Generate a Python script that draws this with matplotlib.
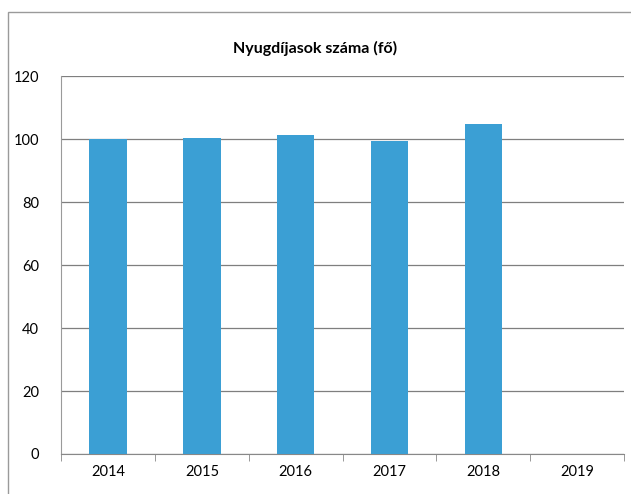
import matplotlib.pyplot as plt
from matplotlib.patches import Rectangle

years = ["2014", "2015", "2016", "2017", "2018", "2019"]
values = [100.0, 100.2, 101.3, 99.5, 104.7, 0]
yticks = [0, 20, 40, 60, 80, 100, 120]

plt.rcParams['font.family'] = ['Lato', 'DejaVu Sans']

fig = plt.figure(figsize=(6.31, 4.94), dpi=100)
ax = fig.add_axes([0.097, 0.081, 0.892, 0.765])

# chart frame
fig.patches.append(Rectangle((0.013, -0.05), 1.1, 1.025, transform=fig.transFigure,
                             fill=False, edgecolor="#9a9a9a", linewidth=1.0))

x = list(range(len(years)))
ax.bar(x[:5], values[:5], width=0.4, color="#3b9fd4", zorder=3)

ax.set_xlim(-0.5, len(years) - 0.5)
ax.set_ylim(0, 120)
ax.set_yticks(yticks)
ax.set_xticks(x)
ax.set_xticklabels(years)
ax.set_xticks([i - 0.5 for i in range(len(years) + 1)], minor=True)
ax.tick_params(axis="x", which="major", length=0, pad=8, labelsize=10.5)
ax.tick_params(axis="x", which="minor", length=5, color="#888888")
ax.tick_params(axis="y", length=0, pad=16, labelsize=10.5)
ax.yaxis.grid(True, color="#7f7f7f", linewidth=0.9, zorder=0)

for s in ["top", "right"]:
    ax.spines[s].set_visible(False)
ax.spines["left"].set_color("#9a9a9a")
ax.spines["bottom"].set_color("#888888")

fig.text(0.5, 0.902, "Nyugdíjasok száma (fő)", ha="center", va="center",
         fontsize=11.5, fontweight="bold")

fig.savefig("out.png", dpi=100)
